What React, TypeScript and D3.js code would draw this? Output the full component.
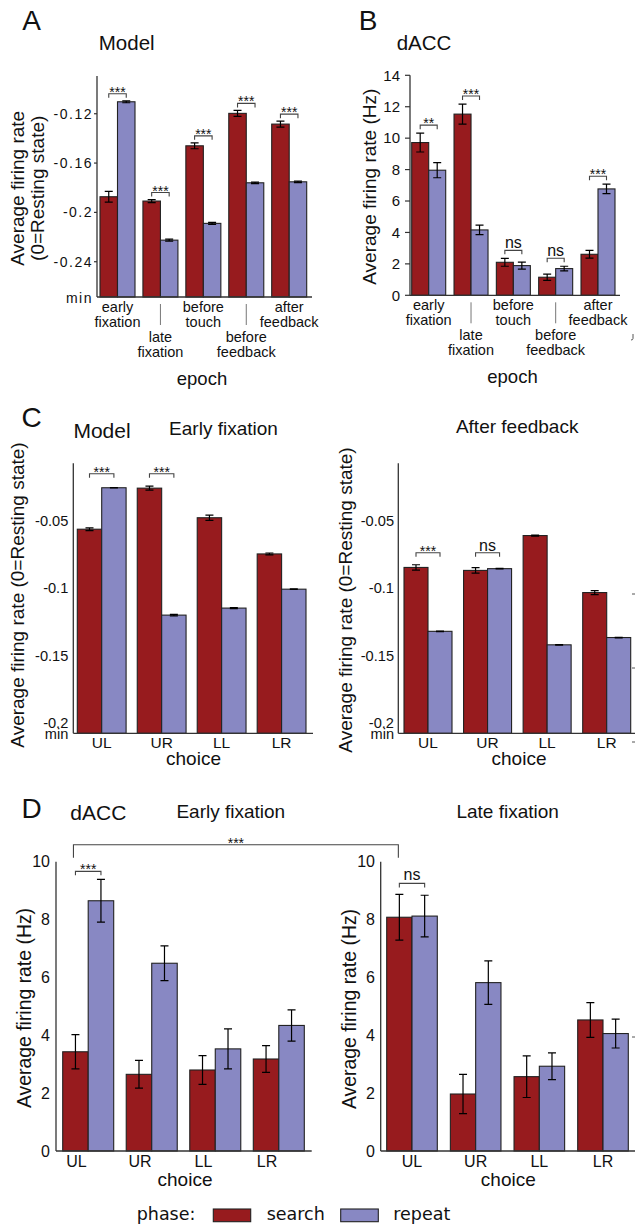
import React from "react";
import * as d3 from "d3";

// ---------------- DATA ----------------
const epochs = ["early fixation", "late fixation", "before touch", "before feedback", "after feedback"];
const choices = ["UL", "UR", "LL", "LR"];

// A: Model, by epoch
const modelEpochSearch = [-0.1873, -0.1908, -0.146, -0.1197, -0.1284];
const modelEpochSearchErr = [0.0043, 0.0012, 0.0024, 0.0024, 0.0024];
const modelEpochRepeat = [-0.1103, -0.2225, -0.2089, -0.176, -0.1752];
const modelEpochRepeatErr = [0.0008, 0.0008, 0.0008, 0.0006, 0.0006];
const modelEpochSig = ["***", "***", "***", "***", "***"];
const modelTicks = [-0.24, -0.2, -0.16, -0.12];
const modelTickLabels = ["-0.24", "-0.2", "-0.16", "-0.12"];

// B: dACC, by epoch
const daccEpochSearch = [9.72, 11.53, 2.1, 1.15, 2.61];
const daccEpochSearchErr = [0.6, 0.64, 0.25, 0.2, 0.25];
const daccEpochRepeat = [7.96, 4.16, 1.89, 1.7, 6.77];
const daccEpochRepeatErr = [0.48, 0.3, 0.22, 0.15, 0.3];
const daccEpochSig = ["**", "***", "ns", "ns", "***"];
const daccEpochTicks = [0, 2, 4, 6, 8, 10, 12, 14];

// C: Model, by choice
const modelEarlySearch = [-0.0563, -0.0259, -0.0478, -0.0746];
const modelEarlySearchErr = [0.001, 0.0015, 0.002, 0.0007];
const modelEarlyRepeat = [-0.0256, -0.1199, -0.1147, -0.1007];
const modelEarlyRepeatErr = [0.0002, 0.0005, 0.0004, 0.0002];
const modelEarlySig = ["***", "***", "", ""];
const modelAfterSearch = [-0.0846, -0.0868, -0.061, -0.1032];
const modelAfterSearchErr = [0.002, 0.002, 0.0004, 0.0015];
const modelAfterRepeat = [-0.1319, -0.0855, -0.1419, -0.1365];
const modelAfterRepeatErr = [0.0002, 0.0002, 0.0002, 0.0002];
const modelAfterSig = ["***", "ns", "", ""];
const choiceModelTicks = [-0.2, -0.15, -0.1, -0.05];
const choiceModelTickLabels = ["-0.2", "-0.15", "-0.1", "-0.05"];

// D: dACC, by choice
const daccEarlySearch = [3.43, 2.65, 2.8, 3.18];
const daccEarlySearchErr = [0.59, 0.48, 0.5, 0.46];
const daccEarlyRepeat = [8.65, 6.49, 3.53, 4.34];
const daccEarlyRepeatErr = [0.74, 0.6, 0.69, 0.54];
const daccEarlySig = ["***", "", "", ""];
const daccLateSearch = [8.08, 1.97, 2.57, 4.53];
const daccLateSearchErr = [0.79, 0.68, 0.72, 0.6];
const daccLateRepeat = [8.12, 5.82, 2.93, 4.06];
const daccLateRepeatErr = [0.72, 0.75, 0.46, 0.5];
const daccLateSig = ["ns", "", "", ""];
const daccChoiceTicks = [0, 2, 4, 6, 8, 10];
const acrossPhaseSig = "***";

const phases = ["search", "repeat"];

// ---------------- STYLE ----------------
const RED = "#971b1e";
const BLUE = "#8888c3";
const STROKE = "#222";
const AXIS = "#333";
const FONT = "'Liberation Sans', Arial, sans-serif";
const LEGEND_FONT = "'DejaVu Sans', sans-serif";

type Cfg = {
  cats: string[];
  search: number[];
  searchErr: number[];
  repeat: number[];
  repeatErr: number[];
  sig: string[];
  barStart: number;
  barEnd: number;
  barW: number;
  yDomain: [number, number];
  yRange: [number, number];
  axisLeft: number;
  axisRight: number;
  ticks: number[];
  tickLabels: string[];
  tickFont: number;
  tickSpacing: number;
  tickLen: number;
  tickGap: number;
  minLabel: boolean;
  bracketOffset: number;
  sharedBracket: boolean;
  nsDy: number;
};

function makeScales(c: Cfg) {
  const n = c.cats.length;
  const step = (c.barEnd - c.barStart - 2 * c.barW) / (n - 1);
  const pad = 1 - (2 * c.barW) / step;
  const xs = d3.scaleBand<string>().domain(c.cats).range([c.barStart, c.barEnd]).paddingInner(pad).paddingOuter(0);
  const xi = d3.scaleBand<string>().domain(phases).range([0, xs.bandwidth()]);
  const y = d3.scaleLinear().domain(c.yDomain).range(c.yRange);
  return { xs, xi, y };
}

function BarPanel({ c }: { c: Cfg }) {
  const { xs, xi, y } = makeScales(c);
  const bottom = c.yRange[0];
  const top = c.yRange[1];
  const bw = xi.bandwidth();
  const cap = 4;

  const levels = c.cats.map((cat, i) =>
    Math.min(y(c.search[i] + c.searchErr[i]), y(c.repeat[i] + c.repeatErr[i])) - c.bracketOffset
  );
  const sigIdx = c.sig.map((s, i) => (s ? i : -1)).filter((i) => i >= 0);
  const shared = sigIdx.length ? Math.min(...sigIdx.map((i) => levels[i])) : 0;

  return (
    <g>
      {c.cats.map((cat, i) => {
        const gx = xs(cat)!;
        return (
          <g key={cat}>
            {phases.map((ph) => {
              const v = ph === "search" ? c.search[i] : c.repeat[i];
              const e = ph === "search" ? c.searchErr[i] : c.repeatErr[i];
              const bx = gx + xi(ph)!;
              const cx = bx + bw / 2;
              return (
                <g key={ph}>
                  <rect
                    x={bx}
                    y={y(v)}
                    width={bw}
                    height={bottom - y(v)}
                    fill={ph === "search" ? RED : BLUE}
                    stroke={STROKE}
                    strokeWidth={1.1}
                  />
                  <path
                    d={`M${cx - cap},${y(v + e)}H${cx + cap}M${cx},${y(v + e)}V${y(v - e)}M${cx - cap},${y(v - e)}H${cx + cap}`}
                    stroke="#000"
                    strokeWidth={1.2}
                    fill="none"
                  />
                </g>
              );
            })}
          </g>
        );
      })}
      {c.cats.map((cat, i) => {
        const s = c.sig[i];
        if (!s) return null;
        const L = c.sharedBracket ? shared : levels[i];
        const x1 = xs(cat)! + xi("search")! + bw / 2;
        const x2 = xs(cat)! + xi("repeat")! + bw / 2;
        const isNs = s === "ns";
        return (
          <g key={"sig" + cat}>
            <path d={`M${x1},${L + 4}V${L}H${x2}V${L + 4}`} stroke="#444" strokeWidth={1.1} fill="none" />
            <text
              x={(x1 + x2) / 2}
              y={isNs ? L - c.nsDy : L + 3}
              textAnchor="middle"
              fontSize={isNs ? 16 : 14}
              fontFamily={FONT}
              fill="#111"
            >
              {s}
            </text>
          </g>
        );
      })}
      {/* axes */}
      <line x1={c.axisLeft} x2={c.axisLeft} y1={top} y2={bottom} stroke={AXIS} strokeWidth={1.3} />
      <line x1={c.axisLeft} x2={c.axisRight} y1={bottom} y2={bottom} stroke={AXIS} strokeWidth={1.3} />
      {c.ticks.map((t, i) => (
        <g key={"t" + t}>
          {c.tickLen > 0 && (
            <line x1={c.axisLeft - c.tickLen} x2={c.axisLeft} y1={y(t)} y2={y(t)} stroke={AXIS} strokeWidth={1.2} />
          )}
          <text
            x={c.axisLeft - c.tickLen - c.tickGap}
            y={y(t)}
            dy="0.35em"
            textAnchor="end"
            fontSize={c.tickFont}
            letterSpacing={c.tickSpacing}
            fontFamily={FONT}
            fill="#111"
          >
            {c.tickLabels[i]}
          </text>
        </g>
      ))}
      {c.minLabel && (
        <text
          x={c.axisLeft - c.tickLen - c.tickGap}
          y={bottom}
          dy="0.4em"
          textAnchor="end"
          fontSize={c.tickFont}
          letterSpacing={c.tickSpacing}
          fontFamily={FONT}
          fill="#111"
        >
          min
        </text>
      )}
    </g>
  );
}

function EpochLabels({ c }: { c: Cfg }) {
  const { xs } = makeScales(c);
  const bottom = c.yRange[0];
  return (
    <g>
      {c.cats.map((cat, i) => {
        const cx = xs(cat)! + xs.bandwidth() / 2;
        const lowered = i % 2 === 1;
        const words = cat.split(" ");
        const base = bottom + 15 + (lowered ? 30 : 0);
        return (
          <g key={cat}>
            {lowered && <line x1={cx} x2={cx} y1={bottom + 7} y2={bottom + 28} stroke="#777" strokeWidth={1} />}
            {words.map((w, k) => (
              <text key={k} x={cx} y={base + k * 15} textAnchor="middle" fontSize={14.5} fontFamily={FONT} fill="#111">
                {w}
              </text>
            ))}
          </g>
        );
      })}
    </g>
  );
}

function ChoiceLabels({ c, atFirst, dy, size }: { c: Cfg; atFirst: boolean; dy: number; size: number }) {
  const { xs, xi } = makeScales(c);
  const bottom = c.yRange[0];
  return (
    <g>
      {c.cats.map((cat) => {
        const cx = atFirst ? xs(cat)! + xi.bandwidth() / 2 + 1 : xs(cat)! + xs.bandwidth() / 2;
        return (
          <text key={cat} x={cx} y={bottom + dy} textAnchor="middle" fontSize={size} fontFamily={FONT} fill="#111">
            {cat}
          </text>
        );
      })}
    </g>
  );
}

const cfgA: Cfg = {
  cats: epochs,
  search: modelEpochSearch,
  searchErr: modelEpochSearchErr,
  repeat: modelEpochRepeat,
  repeatErr: modelEpochRepeatErr,
  sig: modelEpochSig,
  barStart: 100,
  barEnd: 306.7,
  barW: 17.5,
  yDomain: [-0.2686, -0.0894],
  yRange: [297, 76],
  axisLeft: 97,
  axisRight: 312,
  ticks: modelTicks,
  tickLabels: modelTickLabels,
  tickFont: 14,
  tickSpacing: 1.5,
  tickLen: 3,
  tickGap: 1,
  minLabel: true,
  bracketOffset: 7,
  sharedBracket: false,
  nsDy: 2,
};

const cfgB: Cfg = {
  cats: epochs,
  search: daccEpochSearch,
  searchErr: daccEpochSearchErr,
  repeat: daccEpochRepeat,
  repeatErr: daccEpochRepeatErr,
  sig: daccEpochSig,
  barStart: 411.7,
  barEnd: 615,
  barW: 17,
  yDomain: [0, 14],
  yRange: [295.3, 75.3],
  axisLeft: 410,
  axisRight: 620,
  ticks: daccEpochTicks,
  tickLabels: daccEpochTicks.map((t) => String(t)),
  tickFont: 15,
  tickSpacing: 0,
  tickLen: 5,
  tickGap: 5,
  minLabel: false,
  bracketOffset: 8,
  sharedBracket: false,
  nsDy: 2,
};

const cfgC1: Cfg = {
  cats: choices,
  search: modelEarlySearch,
  searchErr: modelEarlySearchErr,
  repeat: modelEarlyRepeat,
  repeatErr: modelEarlyRepeatErr,
  sig: modelEarlySig,
  barStart: 77.3,
  barEnd: 306,
  barW: 24.4,
  yDomain: [-0.2074, -0.0075],
  yRange: [733.3, 463.3],
  axisLeft: 73.3,
  axisRight: 313,
  ticks: choiceModelTicks,
  tickLabels: choiceModelTickLabels,
  tickFont: 14.6,
  tickSpacing: 0,
  tickLen: 0,
  tickGap: 5,
  minLabel: true,
  bracketOffset: 12.4,
  sharedBracket: true,
  nsDy: 2,
};

const cfgC2: Cfg = {
  ...cfgC1,
  search: modelAfterSearch,
  searchErr: modelAfterSearchErr,
  repeat: modelAfterRepeat,
  repeatErr: modelAfterRepeatErr,
  sig: modelAfterSig,
  barStart: 404,
  barEnd: 630.7,
  barW: 24,
  axisLeft: 398.3,
  axisRight: 635,
  tickGap: 4.3,
  bracketOffset: 12,
};

const cfgD1: Cfg = {
  cats: choices,
  search: daccEarlySearch,
  searchErr: daccEarlySearchErr,
  repeat: daccEarlyRepeat,
  repeatErr: daccEarlyRepeatErr,
  sig: daccEarlySig,
  barStart: 62.7,
  barEnd: 304.3,
  barW: 25.5,
  yDomain: [0, 10],
  yRange: [1151, 861.7],
  axisLeft: 56,
  axisRight: 311.7,
  ticks: daccChoiceTicks,
  tickLabels: daccChoiceTicks.map((t) => String(t)),
  tickFont: 16,
  tickSpacing: 0,
  tickLen: 0,
  tickGap: 6,
  minLabel: false,
  bracketOffset: 8,
  sharedBracket: false,
  nsDy: 3,
};

const cfgD2: Cfg = {
  ...cfgD1,
  search: daccLateSearch,
  searchErr: daccLateSearchErr,
  repeat: daccLateRepeat,
  repeatErr: daccLateRepeatErr,
  sig: daccLateSig,
  barStart: 386.7,
  barEnd: 628.3,
  barW: 25.3,
  axisLeft: 380.7,
  axisRight: 635,
  tickGap: 5.7,
  bracketOffset: 11,
};

function T({ x, y, s, size, anchor = "middle", rot = false, family = FONT }: any) {
  return (
    <text
      x={rot ? 0 : x}
      y={rot ? 0 : y}
      transform={rot ? `translate(${x},${y}) rotate(-90)` : undefined}
      textAnchor={anchor}
      fontSize={size}
      fontFamily={family}
      fill="#111"
    >
      {s}
    </text>
  );
}

function AcrossBracket() {
  const s1 = makeScales(cfgD1);
  const s2 = makeScales(cfgD2);
  const x1 = s1.xs(choices[0])! + s1.xi("search")! + s1.xi.bandwidth() / 2 - 2;
  const x2 = s2.xs(choices[0])! + s2.xi("search")! + s2.xi.bandwidth() / 2 - 1;
  const L = s1.y(10) - 17;
  return (
    <g>
      <path d={`M${x1},${L + 13}V${L}H${x2}V${L + 13}`} stroke="#444" strokeWidth={1.1} fill="none" />
      <text x={(x1 + x2) / 2} y={L + 3} textAnchor="middle" fontSize={14} fontFamily={FONT} fill="#111">
        {acrossPhaseSig}
      </text>
    </g>
  );
}

// small cropped fragments of a neighbouring figure at the right edge
function EdgeFragments() {
  const marks = [
    [632, 594],
    [632, 668],
    [632, 742],
    [632, 1037],
  ];
  return (
    <g stroke="#555" strokeWidth={1}>
      {marks.map(([x, y], i) => (
        <line key={i} x1={x} x2={x + 3} y1={y} y2={y} />
      ))}
      <path d="M633,334V338.5Q633,340 631,340" fill="none" />
    </g>
  );
}

function Legend() {
  const lx = 213.3;
  const y0 = 1209;
  return (
    <g fontFamily={LEGEND_FONT} fontSize={17.5} fill="#111">
      <text x={136.7} y={1220}>phase:</text>
      <rect x={lx} y={y0} width={37.4} height={12.7} fill={RED} stroke={STROKE} strokeWidth={1.1} />
      <text x={266.7} y={1220}>{phases[0]}</text>
      <rect x={340.7} y={y0} width={37.6} height={12.7} fill={BLUE} stroke={STROKE} strokeWidth={1.1} />
      <text x={393.3} y={1220}>{phases[1]}</text>
    </g>
  );
}

export default function App() {
  return (
    <svg
      width={635}
      height={1228}
      viewBox="0 0 635 1228"
      style={{ position: "absolute", left: 0, top: 0, background: "#fff" }}
    >
      <rect width={635} height={1228} fill="#fff" />
      {/* Panel A */}
      <T x={31.7} y={30} s="A" size={28} />
      <T x={126.7} y={50} s="Model" size={20.5} />
      <T x={23.6} y={188.3} s="Average firing rate" size={19} rot />
      <T x={44} y={188.3} s="(0=Resting state)" size={19} rot />
      <BarPanel c={cfgA} />
      <EpochLabels c={cfgA} />
      <T x={202} y={385} s="epoch" size={18.5} />

      {/* Panel B */}
      <T x={368} y={30} s="B" size={28} />
      <T x={424} y={50} s="dACC" size={20.5} />
      <T x={375.5} y={186.7} s="Average firing rate (Hz)" size={19} rot />
      <BarPanel c={cfgB} />
      <EpochLabels c={cfgB} />
      <T x={512.5} y={383} s="epoch" size={18.5} />

      {/* Panel C */}
      <T x={31.7} y={426.7} s="C" size={28} />
      <T x={102} y={438} s="Model" size={21} />
      <T x={223.5} y={435} s="Early fixation" size={19} />
      <T x={23.9} y={595} s="Average firing rate (0=Resting state)" size={19} rot />
      <BarPanel c={cfgC1} />
      <ChoiceLabels c={cfgC1} atFirst={false} dy={15} size={15.5} />
      <T x={193.5} y={765} s="choice" size={19} />

      <T x={517.2} y={433.3} s="After feedback" size={19} />
      <T x={352} y={600} s="Average firing rate (0=Resting state)" size={19} rot />
      <BarPanel c={cfgC2} />
      <ChoiceLabels c={cfgC2} atFirst={false} dy={15} size={15.5} />
      <T x={519} y={765} s="choice" size={19} />

      {/* Panel D */}
      <T x={31.7} y={818} s="D" size={28} />
      <T x={98.3} y={820} s="dACC" size={21} />
      <T x={230.8} y={818} s="Early fixation" size={19} />
      <T x={30.7} y={1008} s="Average firing rate (Hz)" size={19.4} rot />
      <BarPanel c={cfgD1} />
      <ChoiceLabels c={cfgD1} atFirst={true} dy={16} size={16} />
      <T x={185} y={1186} s="choice" size={19} />

      <T x={507.7} y={818} s="Late fixation" size={19} />
      <T x={355.7} y={1009} s="Average firing rate (Hz)" size={19.4} rot />
      <BarPanel c={cfgD2} />
      <ChoiceLabels c={cfgD2} atFirst={false} dy={16} size={16} />
      <T x={508.3} y={1186} s="choice" size={19} />

      <AcrossBracket />
      <EdgeFragments />
      <Legend />
    </svg>
  );
}
